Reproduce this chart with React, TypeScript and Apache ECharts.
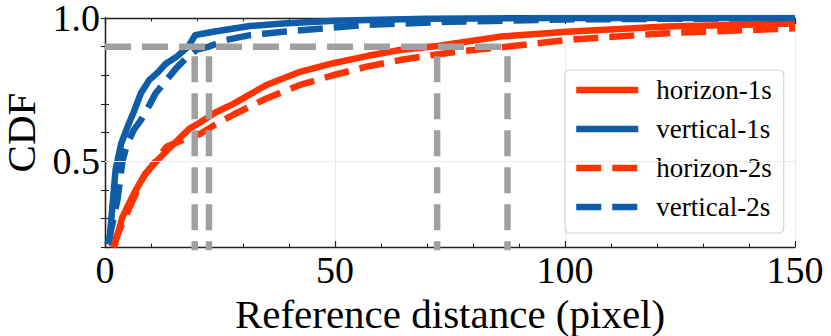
import React, { useEffect, useRef } from "react";
import * as echarts from "echarts";

// ---- data ----
const xMin = 0;
const xMax = 150;
const xInterval = 50;
const yMin = 0.2;
const yMax = 1.0;
const yInterval = 0.1;
const yLabelValues = [0.5, 1.0];
const yGridValues = [0.5];

const seriesNames = ["horizon-1s", "vertical-1s", "horizon-2s", "vertical-2s"];

const horizon1sX = [2.0, 3.8, 6.3, 8.8, 11.4, 14.3, 18.5, 20.65, 24, 27.9, 35.1, 42.4, 49.6, 56.9, 64.1, 72.2, 85.9, 100.4, 122, 150];
const horizon1sY = [0.2, 0.305, 0.387, 0.457, 0.503, 0.55, 0.615, 0.635, 0.67, 0.7, 0.766, 0.812, 0.842, 0.867, 0.888, 0.902, 0.935, 0.952, 0.97, 0.981];

const vertical1sX = [0.5, 1.0, 2.3, 3.5, 4.9, 6.2, 7.8, 9.6, 11.5, 13.2, 15.6, 18.1, 19.6, 23.5, 31.5, 38.7, 50, 57, 70, 100, 150];
const vertical1sY = [0.21, 0.23, 0.47, 0.56, 0.62, 0.67, 0.737, 0.783, 0.81, 0.84, 0.865, 0.9, 0.94, 0.952, 0.972, 0.981, 0.99, 0.993, 0.997, 1.0, 1.0];

const horizon2sX = [1.5, 4.0, 8.3, 13.4, 17, 20.65, 24, 27.9, 35.1, 42.4, 49.6, 56.9, 64.1, 71.4, 78, 87.5, 100.4, 122, 150];
const horizon2sY = [0.2, 0.29, 0.444, 0.55, 0.575, 0.595, 0.628, 0.662, 0.719, 0.766, 0.8, 0.83, 0.853, 0.871, 0.885, 0.9, 0.923, 0.947, 0.964];

const vertical2sX = [0.7, 1.2, 2.7, 3.8, 4.8, 6.3, 7.8, 9.8, 11.0, 12.8, 15.5, 17.8, 20.0, 22.6, 26, 31.5, 38.7, 57, 75, 100, 150];
const vertical2sY = [0.21, 0.25, 0.364, 0.5, 0.56, 0.61, 0.643, 0.7, 0.737, 0.772, 0.825, 0.862, 0.89, 0.9, 0.922, 0.94, 0.952, 0.976, 0.987, 0.995, 1.0];

const refLevel = 0.9;
const refBottom = 0;
const refDistances = [19.5, 22.6, 72.2, 87.5];
const refHorizontalEnd = 87.5;

// ---- styles ----
const RED = "#FF3300";
const BLUE = "#0F5DA8";
const GRAY = "#A0A0A0";
const FONT = "'Liberation Serif', 'Times New Roman', 'DejaVu Serif', serif";
const LW = 6.5;
const DASH = [25, 11];

const pairs = (xs: number[], ys: number[]) => xs.map((x, i) => [x, ys[i]]);

export default function App() {
  const ref = useRef<HTMLDivElement>(null);

  useEffect(() => {
    document.body.style.margin = "0";
    if (!ref.current) return;
    const chart = echarts.init(ref.current, null, { renderer: "svg" });

    const axisLine = { show: true, lineStyle: { color: "#222", width: 1.3 } };

    const xBase = {
      type: "value",
      min: xMin,
      max: xMax,
      interval: xInterval,
      axisLine,
      axisTick: { show: true, inside: true, length: 6, lineStyle: { color: "#222", width: 1.2 } },
      minorTick: { show: true, splitNumber: 5, length: 3.5, lineStyle: { color: "#222", width: 1 } },
    };
    const yBase = {
      type: "value",
      min: yMin,
      max: yMax,
      interval: yInterval,
      axisLine,
      axisTick: { show: true, inside: true, length: 4, lineStyle: { color: "#222", width: 1.1 } },
      splitLine: { show: false },
    };

    const lineSeries = (name: string, xs: number[], ys: number[], color: string, dashed: boolean) => ({
      name,
      type: "line",
      data: pairs(xs, ys),
      symbol: "none",
      showSymbol: false,
      color,
      lineStyle: { color, width: LW, type: dashed ? DASH : "solid", cap: "butt", join: "round" },
      clip: true,
      z: 3,
    });

    const refSeries: any[] = [
      {
        name: "ref-h",
        type: "line",
        data: [[xMin, refLevel], [refHorizontalEnd, refLevel]],
        symbol: "none",
        lineStyle: { color: GRAY, width: LW, type: [26, 11], cap: "butt" },
        clip: true,
        z: 4,
        silent: true,
      },
      ...refDistances.map((d, i) => ({
        name: "ref-v" + i,
        type: "line",
        data: [[d, refBottom], [d, refLevel]],
        symbol: "none",
        lineStyle: { color: GRAY, width: LW, type: [26, 11], cap: "butt" },
        clip: true,
        z: 4,
        silent: true,
      })),
    ];

    chart.setOption({
      animation: false,
      backgroundColor: "#fff",
      grid: { left: 105, right: 36, top: 18, bottom: 89, outerBoundsMode: "none", containLabel: false },
      xAxis: [
        {
          ...xBase,
          position: "bottom",
          name: "Reference distance (pixel)",
          nameLocation: "middle",
          nameGap: 39,
          nameTextStyle: { fontFamily: FONT, fontSize: 41, color: "#000", lineHeight: 41 },
          axisLabel: { show: true, margin: 4, fontFamily: FONT, fontSize: 38, color: "#000" },
          splitLine: { show: true, lineStyle: { color: "#ebebeb", width: 1 } },
        },
        {
          ...xBase,
          position: "top",
          axisLabel: { show: false },
          splitLine: { show: false },
        },
      ],
      yAxis: [
        {
          ...yBase,
          position: "left",
          name: "CDF",
          nameLocation: "middle",
          nameRotate: 90,
          nameGap: 66,
          nameTextStyle: { fontFamily: FONT, fontSize: 41, color: "#000", lineHeight: 34 },
          axisLabel: {
            show: true,
            margin: 5,
            fontFamily: FONT,
            fontSize: 38,
            lineHeight: 30,
            color: "#000",
            formatter: (v: number) =>
              yLabelValues.some((l) => Math.abs(l - v) < 1e-6) ? v.toFixed(1) : "",
          },
        },
        {
          ...yBase,
          position: "right",
          axisLabel: { show: false },
        },
      ],
      legend: {
        data: seriesNames,
        orient: "vertical",
        left: 565,
        top: 70,
        padding: [5, 12, 11, 8],
        itemGap: 9,
        itemWidth: 62,
        itemHeight: 14,
        backgroundColor: "rgba(255,255,255,0.85)",
        borderColor: "#d4d4d4",
        borderWidth: 1.2,
        borderRadius: 5,
        itemStyle: { opacity: 0 },
        lineStyle: { width: LW, cap: "butt" },
        textStyle: { fontFamily: FONT, fontSize: 27, color: "#000", lineHeight: 30, padding: [0, 0, 0, 13] },
        selectedMode: false,
      },
      series: [
        {
          name: "grid-y",
          type: "line",
          data: [],
          symbol: "none",
          silent: true,
          z: 1,
          markLine: {
            silent: true,
            symbol: "none",
            label: { show: false },
            lineStyle: { color: "#ebebeb", width: 1, type: "solid" },
            data: yGridValues.map((v) => ({ yAxis: v })),
          },
        },
        lineSeries(seriesNames[0], horizon1sX, horizon1sY, RED, false),
        lineSeries(seriesNames[1], vertical1sX, vertical1sY, BLUE, false),
        lineSeries(seriesNames[2], horizon2sX, horizon2sY, RED, true),
        lineSeries(seriesNames[3], vertical2sX, vertical2sY, BLUE, true),
        ...refSeries,
      ],
    });

    return () => chart.dispose();
  }, []);

  return <div ref={ref} style={{ width: 831, height: 336 }} />;
}
